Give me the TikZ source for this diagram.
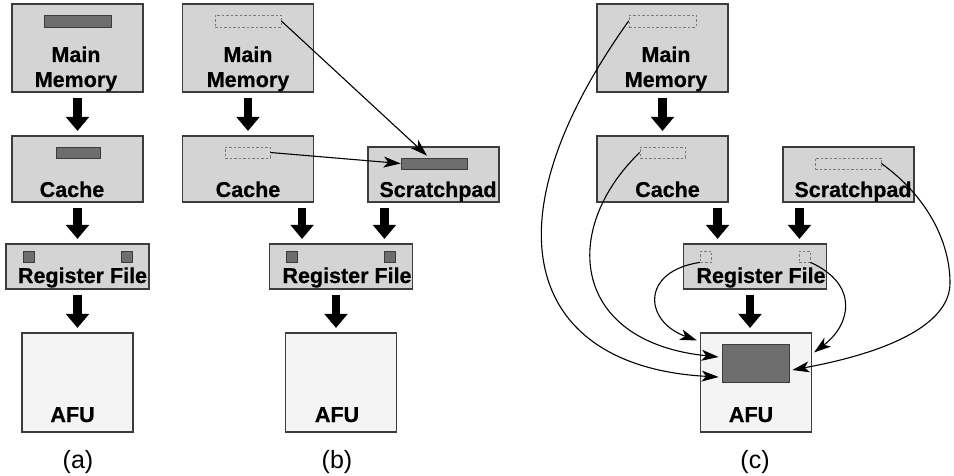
\documentclass[tikz,border=0pt]{standalone}
\usepackage{fontspec}
\setmainfont{Liberation Sans}
\newfontface\boxfont{Liberation Sans Bold}[FakeBold=0.6]
\usetikzlibrary{arrows.meta,calc}
\definecolor{boxgray}{HTML}{D4D4D4}
\definecolor{afugray}{HTML}{F4F4F4}
\definecolor{bargray}{HTML}{6E6E6E}
\definecolor{edgegray}{HTML}{3C3C3C}
\definecolor{dashgray}{HTML}{7A7A7A}
\begin{document}
\begin{tikzpicture}[x=1pt,y=-1pt,
  unit/.style={draw=edgegray, line width=1.1pt, fill=boxgray, inner sep=0pt},
  afubox/.style={unit, fill=afugray},
  fullbar/.style={draw=edgegray, line width=0.7pt, fill=bargray, inner sep=0pt},
  emptybar/.style={draw=dashgray, line width=0.7pt, dash pattern=on 2.5pt off 2pt, inner sep=0pt},
  lbl/.style={font=\fontsize{21.5}{25}\boxfont, inner sep=0pt, anchor=base},
  caption/.style={font=\fontsize{25}{29}\selectfont, inner sep=0pt, anchor=base},
  bigarrow/.style={line width=8.3pt, -{Triangle[length=14pt,width=22.5pt]}, shorten <=5pt, shorten >=4.5pt},
  link/.style={line width=1.1pt, -{Stealth[length=17pt,width=11pt,inset=4.5pt]}},
]
\useasboundingbox (0,0) rectangle (954,476);

% ---------------- (a) ----------------
\node[unit, minimum width=131pt, minimum height=88pt] (mmA) at (77.5,48) {};
\node[unit, minimum width=131pt, minimum height=66pt] (cacheA) at (77.5,169) {};
\node[unit, minimum width=143pt, minimum height=45pt] (rfA) at (77.5,266.5) {};
\node[afubox, minimum width=111pt, minimum height=99pt] (afuA) at (77.5,382.5) {};
\node[fullbar, minimum width=67pt, minimum height=12pt] (mmbarA) at (77.5,21) {};
\node[fullbar, minimum width=44pt, minimum height=11pt] (cbarA) at (78,152.5) {};
\node[fullbar, minimum width=11pt, minimum height=11pt] (rsqA1) at (28.5,256.5) {};
\node[fullbar, minimum width=11pt, minimum height=11pt] (rsqA2) at (126.5,256.5) {};
\node[lbl] (mmAt1) at (76,62) {Main};
\node[lbl] (mmAt2) at (76,87) {Memory};
\node[lbl] (cacheAt) at (72,197) {Cache};
\node[lbl] (rfAt) at (82.5,283) {Register File};
\node[lbl] (afuAt) at (72.5,422) {AFU};
\node[caption] (capA) at (78,468) {(a)};
\draw[bigarrow] (mmA) -- (cacheA);
\draw[bigarrow] (cacheA) -- (rfA);
\draw[bigarrow] (rfA) -- (afuA);

% ---------------- (b) ----------------
\node[unit, minimum width=131pt, minimum height=88pt] (mmB) at (248,48) {};
\node[unit, minimum width=131pt, minimum height=66pt] (cacheB) at (248,169) {};
\node[unit, minimum width=131pt, minimum height=55pt] (scrB) at (433.5,174.5) {};
\node[unit, minimum width=143pt, minimum height=45pt] (rfB) at (341,266.5) {};
\node[afubox, minimum width=111pt, minimum height=99pt] (afuB) at (341,382.5) {};
\node[emptybar, minimum width=66pt, minimum height=12pt] (mmbarB) at (248,21) {};
\node[emptybar, minimum width=45pt, minimum height=11pt] (cbarB) at (247.5,152.5) {};
\node[fullbar, minimum width=66pt, minimum height=11pt] (spbarB) at (434,163.5) {};
\node[fullbar, minimum width=11pt, minimum height=11pt] (rsqB1) at (292,256.5) {};
\node[fullbar, minimum width=11pt, minimum height=11pt] (rsqB2) at (390,256.5) {};
\node[lbl] (mmBt1) at (248,62) {Main};
\node[lbl] (mmBt2) at (248,87) {Memory};
\node[lbl] (cacheBt) at (248,197) {Cache};
\node[lbl] (scrBt) at (438,197) {Scratchpad};
\node[lbl] (rfBt) at (347,283) {Register File};
\node[lbl] (afuBt) at (337,422) {AFU};
\node[caption] (capB) at (337,468) {(b)};
\draw[bigarrow] (mmB) -- (cacheB);
\draw[bigarrow] ([xshift=-12pt]cacheB.south east) -- ([xshift=-12pt]cacheB.south east |- rfB.north);
\draw[bigarrow] ([xshift=17pt]scrB.south west) -- ([xshift=17pt]scrB.south west |- rfB.north);
\draw[bigarrow] ([xshift=-5pt]rfB.south) -- ([xshift=-5pt]rfB.south |- afuB.north);
\draw[link] (mmbarB.east) -- ($(spbarB.north)+(-7,-2)$);
\draw[link] (cbarB.east) -- (spbarB.west);

% ---------------- (c) ----------------
\node[unit, minimum width=131pt, minimum height=88pt] (mmC) at (662.5,48) {};
\node[unit, minimum width=131pt, minimum height=66pt] (cacheC) at (662.5,169) {};
\node[unit, minimum width=131pt, minimum height=55pt] (scrC) at (848.5,174.5) {};
\node[unit, minimum width=143pt, minimum height=45pt] (rfC) at (755,266.5) {};
\node[afubox, minimum width=111pt, minimum height=99pt] (afuC) at (756,382.5) {};
\node[fullbar, minimum width=67pt, minimum height=38pt] (darkC) at (755.5,363) {};
\node[emptybar, minimum width=67pt, minimum height=12pt] (mmbarC) at (662.5,21) {};
\node[emptybar, minimum width=45pt, minimum height=11pt] (cbarC) at (662.5,152.5) {};
\node[emptybar, minimum width=66pt, minimum height=11pt] (scbarC) at (848,163.5) {};
\node[emptybar, minimum width=11pt, minimum height=11pt] (rsqC1) at (706,256.5) {};
\node[emptybar, minimum width=11pt, minimum height=11pt] (rsqC2) at (804.5,256.5) {};
\node[lbl] (mmCt1) at (666,62) {Main};
\node[lbl] (mmCt2) at (666,87) {Memory};
\node[lbl] (cacheCt) at (667.5,197) {Cache};
\node[lbl] (scrCt) at (853,197) {Scratchpad};
\node[lbl] (rfCt) at (761,283) {Register File};
\node[lbl] (afuCt) at (751,422) {AFU};
\node[caption] (capC) at (755,468) {(c)};
\draw[bigarrow] (mmC) -- (cacheC);
\draw[bigarrow] ([xshift=-11pt]cacheC.south east) -- ([xshift=-11pt]cacheC.south east |- rfC.north);
\draw[bigarrow] ([xshift=17pt]scrC.south west) -- ([xshift=17pt]scrC.south west |- rfC.north);
\draw[bigarrow] ([xshift=-5pt]rfC.south) -- ([xshift=-5pt]rfC.south |- afuC.north);

% direct paths into the AFU
\coordinate (eBend) at (950,283);
\draw[link] (mmbarC.west) .. controls +(-149,209) and +(-187,-10) .. ($(darkC.west)+(-3,14)$);
\draw[link] (cbarC.west) .. controls +(-80,77.5) and +(-147,-15) .. ($(darkC.west)+(-3,-6)$);
\draw[link] (rsqC1.south west) .. controls +(-60,9) and +(-53,-19) .. ($(afuC.north west)+(-3,8)$);
\draw[link] (rsqC2.south east) .. controls +(49,22) and +(37,-28) .. ($(afuC.north east)+(2,20)$);
\draw[link] (scbarC.east) .. controls +(44,31.5) and +(0,-43) .. (eBend)
  .. controls +(0,37) and +(108,-20) .. ($(darkC.east)+(3,7)$);
\end{tikzpicture}
\end{document}
